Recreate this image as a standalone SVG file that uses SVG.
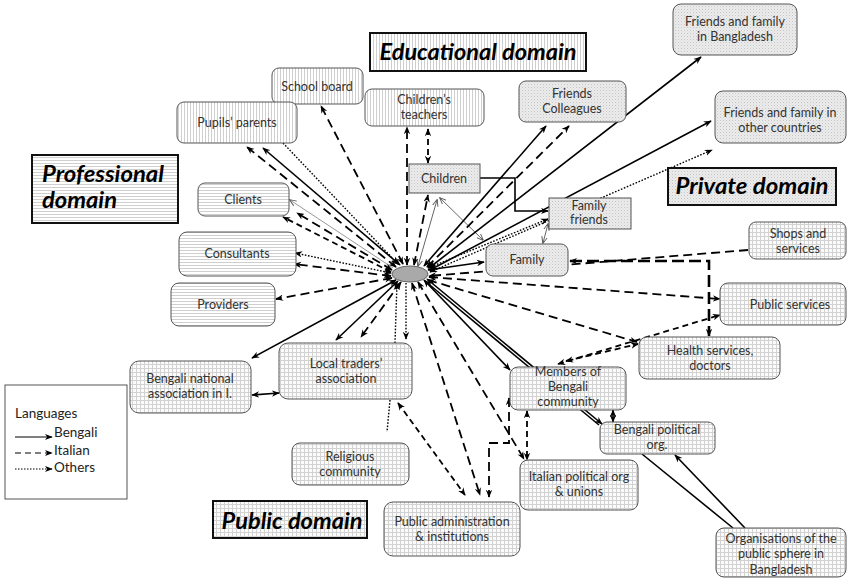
<svg xmlns="http://www.w3.org/2000/svg" width="847" height="579" viewBox="0 0 847 579">
<defs>
<style>
.n{stroke:#555;stroke-width:1}
.ti{stroke:#111;stroke-width:2}
.l{font-family:Lato,"Liberation Sans",sans-serif;font-size:12.5px;fill:#333;text-anchor:middle}
.h{font-family:Lato,"Liberation Sans",sans-serif;font-size:23px;font-weight:bold;font-style:italic;fill:#000}
.lg{font-family:Lato,"Liberation Sans",sans-serif;font-size:13.5px;fill:#222}
.s{stroke:#000;stroke-width:1.6;fill:none}
.d{stroke:#000;stroke-width:1.8;stroke-dasharray:9 5;fill:none}
.dd{stroke:#000;stroke-width:1.8;stroke-dasharray:6 4;fill:none}
.o{stroke:#000;stroke-width:1.4;stroke-dasharray:1.6 1.6;fill:none}
.t{stroke:#666;stroke-width:1;fill:none}
.g{stroke:#999;stroke-width:1;fill:none}
.B{marker-start:url(#ah);marker-end:url(#ah)}
.E{marker-end:url(#ah)}
</style>
<marker id="ah" viewBox="0 0 10 10" refX="9" refY="5" markerWidth="8" markerHeight="8" markerUnits="userSpaceOnUse" orient="auto-start-reverse"><path d="M0,1 L10,5 L0,9 L3,5 z" fill="#000"/></marker>
<marker id="ahs" viewBox="0 0 10 10" refX="9" refY="5" markerWidth="7" markerHeight="7" markerUnits="userSpaceOnUse" orient="auto-start-reverse"><path d="M0,1 L10,5 L0,9" fill="none" stroke="#555" stroke-width="1.3"/></marker>
<pattern id="pv" width="3" height="3" patternUnits="userSpaceOnUse"><rect width="3" height="3" fill="#fff"/><line x1="1.5" y1="0" x2="1.5" y2="3" stroke="#cfcfcf" stroke-width="1"/></pattern>
<pattern id="ph" width="3" height="3" patternUnits="userSpaceOnUse"><rect width="3" height="3" fill="#fff"/><line x1="0" y1="1.5" x2="3" y2="1.5" stroke="#cfcfcf" stroke-width="1"/></pattern>
<pattern id="pd" width="3" height="3" patternUnits="userSpaceOnUse"><rect width="3" height="3" fill="#ececec"/><rect x="0" y="0" width="1" height="1" fill="#c4c4c4"/><rect x="1.5" y="1.5" width="1" height="1" fill="#d4d4d4"/></pattern>
<pattern id="pg" width="4" height="4" patternUnits="userSpaceOnUse"><rect width="4" height="4" fill="#fbfbfb"/><path d="M0 0.5H4M0.5 0V4" stroke="#d2d2d2" stroke-width="1"/></pattern>
</defs>
<rect width="847" height="579" fill="#fff"/>

<g id="connectors">
<!-- professional / educational left -->
<line class="s B" x1="400" y1="265" x2="263" y2="148"/>
<line class="d B" x1="396" y1="267" x2="247" y2="147"/>
<line class="o E" x1="283" y1="143" x2="398" y2="264"/>
<line class="d B" x1="403" y1="264" x2="321" y2="106"/>
<line class="d B" x1="407" y1="265" x2="407" y2="127"/>
<line class="dd B" x1="428" y1="129" x2="428" y2="163"/>
<line class="d B" x1="414" y1="265" x2="428" y2="195"/>
<line class="t" x1="418" y1="266" x2="437" y2="200" marker-start="url(#ahs)" marker-end="url(#ahs)"/>
<line class="t" x1="440" y1="198" x2="483" y2="240" marker-start="url(#ahs)" marker-end="url(#ahs)"/>
<path class="s E" d="M480 178H515V211H548"/>
<line class="g" x1="393" y1="268" x2="290" y2="200" marker-end="url(#ahs)"/>
<line class="d B" x1="392" y1="270" x2="297" y2="213"/>
<line class="dd B" x1="391" y1="272" x2="283" y2="217"/>
<line class="o B" x1="391" y1="273" x2="295" y2="253"/>
<line class="d B" x1="391" y1="276" x2="294" y2="264"/>
<line class="d B" x1="392" y1="278" x2="276" y2="299"/>
<line class="s B" x1="396" y1="280" x2="252" y2="358"/>
<line class="s B" x1="398" y1="281" x2="336" y2="340"/>
<line class="d B" x1="401" y1="282" x2="361" y2="337"/>
<line class="o E" x1="395" y1="343" x2="397" y2="283"/>
<line class="o E" x1="406" y1="283" x2="406" y2="339"/>
<line class="o" x1="390" y1="400" x2="387" y2="432"/>
<line class="s B" x1="252" y1="395" x2="279" y2="393"/>
<!-- public -->
<line class="dd B" x1="398" y1="403" x2="465" y2="495"/>
<line class="d B" x1="412" y1="283" x2="480" y2="495"/>
<line class="d B" x1="418" y1="282" x2="524" y2="459"/>
<path class="d B" d="M509 398V443H489V497"/>
<line class="dd B" x1="527" y1="411" x2="527" y2="460"/>
<line class="s" x1="425" y1="281" x2="599" y2="425"/>
<line class="s B" x1="427" y1="279" x2="602" y2="424"/>
<line class="s B" x1="424" y1="280" x2="510" y2="370"/>
<line class="s B" x1="613" y1="410" x2="613" y2="422"/>
<line class="s" x1="642" y1="454" x2="733" y2="528"/>
<line class="s E" x1="745" y1="528" x2="675" y2="455"/>
<line class="d B" x1="428" y1="280" x2="637" y2="342"/>
<line class="d B" x1="429" y1="277" x2="720" y2="299"/>
<line class="d E" x1="748" y1="250" x2="429" y2="276"/>
<path d="M570 261H709V336" fill="none" stroke="#000" stroke-width="2.6" stroke-dasharray="12 5" class="B"/>
<line class="dd B" x1="558" y1="364" x2="720" y2="315"/>
<line class="dd B" x1="566" y1="361" x2="638" y2="344"/>
<!-- private -->
<line class="s B" x1="428" y1="270" x2="484" y2="262"/>
<line class="o B" x1="428" y1="268" x2="548" y2="219"/>
<line class="t" x1="548" y1="224" x2="543" y2="243" marker-start="url(#ahs)" marker-end="url(#ahs)"/>
<line class="s B" x1="424" y1="266" x2="546" y2="126"/>
<line class="d B" x1="427" y1="267" x2="569" y2="126"/>
<line class="s B" x1="429" y1="268" x2="701" y2="57"/>
<line class="s B" x1="430" y1="270" x2="711" y2="121"/>
<line class="o B" x1="430" y1="272" x2="712" y2="150"/>
</g>

<g id="hub"><ellipse cx="410" cy="274" rx="18" ry="8" fill="#a9a9a9" stroke="#666" stroke-width="1"/></g>

<g id="educational-domain"><rect x="370" y="33" width="216" height="38" fill="url(#pv)" class="ti"/><text x="478" y="60" class="h" text-anchor="middle" textLength="197" lengthAdjust="spacingAndGlyphs">Educational domain</text></g>
<g id="professional-domain"><rect x="32" y="155" width="146" height="68" fill="url(#ph)" class="ti"/><text x="42" y="182" class="h" textLength="122" lengthAdjust="spacingAndGlyphs">Professional</text><text x="42" y="208" class="h" textLength="75" lengthAdjust="spacingAndGlyphs">domain</text></g>
<g id="private-domain"><rect x="668" y="168" width="168" height="37" fill="url(#pd)" class="ti"/><text x="752" y="194" class="h" text-anchor="middle" textLength="153" lengthAdjust="spacingAndGlyphs">Private domain</text></g>
<g id="public-domain"><rect x="213" y="501" width="154" height="37" fill="url(#pg)" class="ti"/><text x="292" y="529" class="h" text-anchor="middle" textLength="141" lengthAdjust="spacingAndGlyphs">Public domain</text></g>

<g id="school-board"><rect x="272" y="68" width="91" height="36" rx="7" fill="url(#pv)" class="n"/><text x="317" y="91" class="l">School board</text></g>
<g id="pupils-parents"><rect x="177" y="102" width="120" height="41" rx="7" fill="url(#pv)" class="n"/><text x="237" y="127" class="l">Pupils’ parents</text></g>
<g id="childrens-teachers"><rect x="365" y="89" width="119" height="37" rx="7" fill="url(#pv)" class="n"/><text x="424" y="104" class="l">Children’s</text><text x="424" y="119" class="l">teachers</text></g>
<g id="friends-colleagues"><rect x="519" y="81" width="107" height="41" rx="7" fill="url(#pd)" class="n"/><text x="572" y="98" class="l">Friends</text><text x="572" y="113" class="l">Colleagues</text></g>
<g id="friends-bangladesh"><rect x="673" y="4" width="124" height="51" rx="8" fill="url(#pd)" class="n"/><text x="735" y="26" class="l">Friends and family</text><text x="735" y="41" class="l">in Bangladesh</text></g>
<g id="friends-other"><rect x="715" y="91" width="131" height="52" rx="8" fill="url(#pd)" class="n"/><text x="780" y="117" class="l">Friends and family in</text><text x="780" y="132" class="l">other countries</text></g>
<g id="children"><rect x="409" y="164" width="71" height="29" fill="url(#pd)" class="n"/><text x="444" y="183" class="l">Children</text></g>
<g id="family-friends"><rect x="549" y="198" width="82" height="31" fill="url(#pd)" class="n"/><text x="589" y="210" class="l">Family</text><text x="589" y="224" class="l">friends</text></g>
<g id="family"><rect x="486" y="244" width="82" height="32" rx="7" fill="url(#pd)" class="n"/><text x="527" y="264" class="l">Family</text></g>
<g id="clients"><rect x="198" y="183" width="91" height="33" rx="7" fill="url(#ph)" class="n"/><text x="243" y="204" class="l">Clients</text></g>
<g id="consultants"><rect x="179" y="232" width="117" height="44" rx="8" fill="url(#ph)" class="n"/><text x="237" y="258" class="l">Consultants</text></g>
<g id="providers"><rect x="171" y="283" width="104" height="43" rx="8" fill="url(#ph)" class="n"/><text x="223" y="309" class="l">Providers</text></g>
<g id="bengali-national"><rect x="130" y="361" width="121" height="52" rx="9" fill="url(#pg)" class="n"/><text x="190" y="383" class="l">Bengali national</text><text x="190" y="398" class="l">association in I.</text></g>
<g id="local-traders"><rect x="279" y="343" width="133" height="56" rx="9" fill="url(#pg)" class="n"/><text x="346" y="368" class="l">Local traders’</text><text x="346" y="383" class="l">association</text></g>
<g id="religious"><rect x="292" y="443" width="117" height="42" rx="8" fill="url(#pg)" class="n"/><text x="350" y="461" class="l">Religious</text><text x="350" y="476" class="l">community</text></g>
<g id="public-admin"><rect x="384" y="502" width="136" height="54" rx="9" fill="url(#pg)" class="n"/><text x="452" y="526" class="l">Public administration</text><text x="452" y="541" class="l">&amp; institutions</text></g>
<g id="italian-political"><rect x="520" y="460" width="118" height="50" rx="8" fill="url(#pg)" class="n"/><text x="579" y="481" class="l">Italian political org</text><text x="579" y="496" class="l">&amp; unions</text></g>
<g id="members-bengali"><rect x="510" y="367" width="116" height="43" rx="8" fill="url(#pg)" class="n"/><text x="568" y="376" class="l">Members of</text><text x="568" y="391" class="l">Bengali</text><text x="568" y="406" class="l">community</text></g>
<g id="bengali-political"><rect x="600" y="422" width="115" height="32" rx="7" fill="url(#pg)" class="n"/><text x="657" y="434" class="l">Bengali political</text><text x="657" y="449" class="l">org.</text></g>
<g id="organisations-bd"><rect x="716" y="528" width="130" height="49" rx="8" fill="url(#pg)" class="n"/><text x="781" y="543" class="l">Organisations of the</text><text x="781" y="558" class="l">public sphere in</text><text x="781" y="574" class="l">Bangladesh</text></g>
<g id="shops"><rect x="749" y="222" width="97" height="37" rx="7" fill="url(#pg)" class="n"/><text x="798" y="238" class="l">Shops and</text><text x="798" y="253" class="l">services</text></g>
<g id="public-services"><rect x="720" y="283" width="126" height="42" rx="8" fill="url(#pg)" class="n"/><text x="790" y="309" class="l">Public services</text></g>
<g id="health-services"><rect x="639" y="337" width="141" height="42" rx="8" fill="url(#pg)" class="n"/><text x="710" y="355" class="l">Health services,</text><text x="710" y="370" class="l">doctors</text></g>

<g id="legend">
<rect x="5" y="385" width="122" height="114" fill="#fff" stroke="#555" stroke-width="1"/>
<text x="15" y="418" class="lg">Languages</text>
<line x1="15" y1="437" x2="52" y2="437" stroke="#000" stroke-width="1.2" class="E"/>
<text x="54" y="437" class="lg">Bengali</text>
<line x1="15" y1="453" x2="52" y2="453" stroke="#000" stroke-width="1.2" stroke-dasharray="6 4" class="E"/>
<text x="54" y="455" class="lg">Italian</text>
<line x1="15" y1="469" x2="52" y2="469" stroke="#000" stroke-width="1.2" stroke-dasharray="1.5 1.5" class="E"/>
<text x="54" y="472" class="lg">Others</text>
</g>
</svg>
